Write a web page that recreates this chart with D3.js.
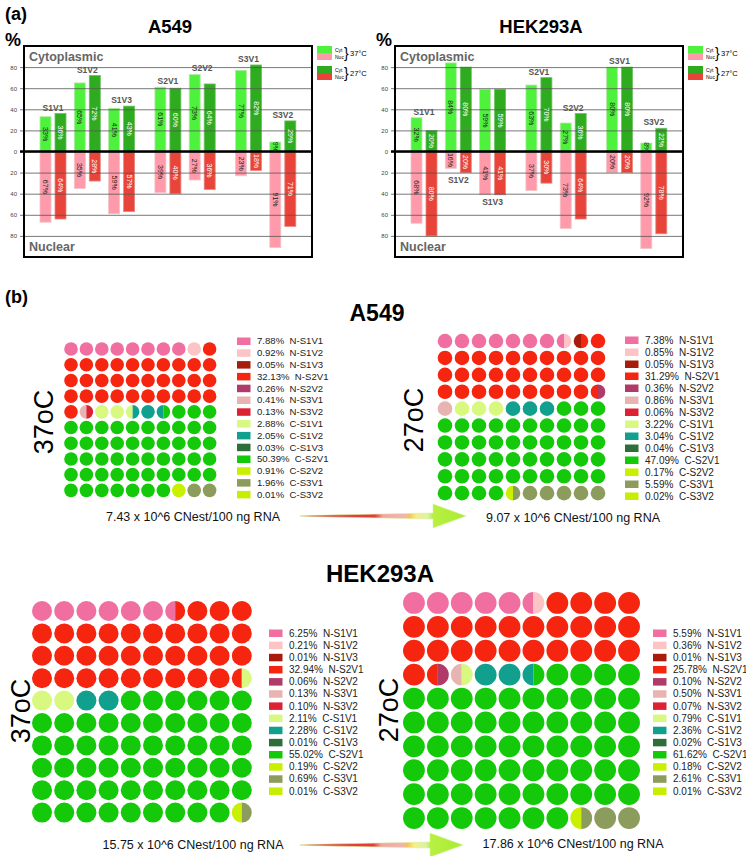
<!DOCTYPE html>
<html>
<head>
<meta charset="utf-8">
<script src="https://cdn.jsdelivr.net/npm/d3@7"></script>
<style>
body { margin: 0; background: #fff; }
text { font-family: "Liberation Sans", Arial, Helvetica, sans-serif; }
</style>
</head>
<body>
<svg id="fig" width="746" height="856"></svg>
<script>
// ---- panel (a) data ----
var barVariants = ["S1V1", "S1V2", "S1V3", "S2V1", "S2V2", "S3V1", "S3V2"];
var barGroups = [0, 0, 0, 1, 1, 2, 2];
var yTicks = [80, 60, 40, 20, 0, -20, -40, -60, -80];

var a549Cyt37 = [33, 65, 41, 61, 73, 77, 9];
var a549Cyt27 = [36, 72, 43, 60, 64, 82, 29];
var a549Nuc37 = [67, 35, 59, 39, 27, 23, 91];
var a549Nuc27 = [64, 28, 57, 40, 36, 18, 71];

var hekCyt37 = [32, 84, 59, 63, 27, 80, 8];
var hekCyt27 = [20, 80, 59, 70, 36, 80, 22];
var hekNuc37 = [68, 16, 41, 37, 73, 20, 92];
var hekNuc27 = [80, 20, 41, 30, 64, 20, 78];
var hekLabelBelow = ["S1V2", "S1V3"];

// ---- panel (b) data ----
var waffleCats = ["N-S1V1", "N-S1V2", "N-S1V3", "N-S2V1", "N-S2V2", "N-S3V1", "N-S3V2",
	"C-S1V1", "C-S1V2", "C-S1V3", "C-S2V1", "C-S2V2", "C-S3V1", "C-S3V2"];
var waffleColors = ["#f06ea0", "#fcc4c4", "#a81c0c", "#f52510", "#b03a68", "#e8b4b2", "#dc2232",
	"#d8f880", "#12a08e", "#2e6e38", "#14c80a", "#c8f000", "#8c9c5c", "#c6ee00"];

var a549Pct37 = [7.88, 0.92, 0.05, 32.13, 0.26, 0.41, 0.13, 2.88, 2.05, 0.03, 50.39, 0.91, 1.96, 0.01];
var a549Pct27 = [7.38, 0.85, 0.05, 31.29, 0.36, 0.86, 0.06, 3.22, 3.04, 0.04, 47.09, 0.17, 5.59, 0.02];
var hekPct37 = [6.25, 0.21, 0.01, 32.94, 0.06, 0.13, 0.10, 2.11, 2.28, 0.01, 55.02, 0.19, 0.69, 0.01];
var hekPct27 = [5.59, 0.36, 0.01, 25.78, 0.10, 0.50, 0.07, 0.79, 2.36, 0.02, 61.62, 0.18, 2.61, 0.01];

// circles per category as drawn (half circles allowed)
var a549Cells37 = [8, 1, 0, 32, 0, 0.5, 0.5, 2.5, 2, 0, 50.5, 1, 2, 0];
var a549Cells27 = [7.5, 0.5, 0.5, 31, 0.5, 1, 0, 3, 3, 0, 47, 0.5, 5.5, 0];
var hekCells37 = [6.5, 0, 0, 33, 0, 0, 0, 2.5, 2, 0, 55, 0.5, 0.5, 0];
var hekCells27 = [5.5, 0.5, 0, 25.5, 0.5, 0.5, 0, 0.5, 2.5, 0, 61.5, 0.5, 2.5, 0];

var copies = ["7.43 x 10^6 CNest/100 ng RNA", "9.07 x 10^6 CNest/100 ng RNA",
	"15.75 x 10^6 CNest/100 ng RNA", "17.86 x 10^6 CNest/100 ng RNA"];

var svg = d3.select("#fig");
svg.append("rect").attr("width", 746).attr("height", 856).attr("fill", "#fff");

var defs = svg.append("defs");
var grad = defs.append("linearGradient").attr("id", "arrowGrad");
[[0, "#f0dada"], [0.06, "#d84444"], [0.45, "#e23c38"], [0.5, "#f2a4a4"], [0.63, "#f4b2b0"],
 [0.66, "#f6c45a"], [0.7, "#f6ee84"], [0.77, "#dcf2a8"], [0.8, "#b8f044"], [1, "#a8ec30"]]
	.forEach(function(s) {
		grad.append("stop").attr("offset", s[0]).attr("stop-color", s[1]);
	});

// ---------- panel (a) ----------
function barPanel(fx, title, cyt37, cyt27, nuc37, nuc27, below) {
	var top = 46, bottom = 257, w = 288;
	var g = svg.append("g");
	var y = d3.scaleLinear().domain([-100, 100]).range([bottom, top]);
	var x = d3.scaleBand().domain(barVariants).range([fx + 16, fx + 16 + 7 * 34.3]);
	var sub = d3.scaleBand().domain(["37", "27"]).range([0, 26]).paddingInner(4 / 15);
	var bw = sub.bandwidth();
	function gx(v) { return x(v) + barGroups[barVariants.indexOf(v)] * 12; }

	var rows = [];
	barVariants.forEach(function(v, i) {
		rows.push({v: v, t: "37", cyt: cyt37[i], nuc: nuc37[i]});
		rows.push({v: v, t: "27", cyt: cyt27[i], nuc: nuc27[i]});
	});

	g.append("text").attr("x", fx + 146).attr("y", 33).attr("text-anchor", "middle")
		.attr("font-size", 18.5).attr("font-weight", "bold").text(title);
	g.append("text").attr("x", fx - 19).attr("y", 46).attr("font-size", 18)
		.attr("font-weight", "bold").text("%");

	g.selectAll("rect.cyt").data(rows).enter().append("rect")
		.attr("class", "cyt")
		.attr("x", function(d) { return gx(d.v) + sub(d.t); })
		.attr("y", function(d) { return y(d.cyt); })
		.attr("width", bw)
		.attr("height", function(d) { return y(0) - y(d.cyt); })
		.attr("fill", function(d) { return d.t === "37" ? "#4ef23c" : "#2fab1f"; })
		.attr("stroke", function(d) { return d.t === "37" ? "#b6eaa8" : "#6cc060"; })
		.attr("stroke-width", 0.8);

	g.selectAll("rect.nuc").data(rows).enter().append("rect")
		.attr("class", "nuc")
		.attr("x", function(d) { return gx(d.v) + sub(d.t); })
		.attr("y", y(0))
		.attr("width", bw)
		.attr("height", function(d) { return y(-d.nuc) - y(0); })
		.attr("fill", function(d) { return d.t === "37" ? "#ff9aaa" : "#e8443a"; })
		.attr("stroke", function(d) { return d.t === "37" ? "#f2c4c8" : "#e88880"; })
		.attr("stroke-width", 0.8);

	var axis = g.append("g").attr("transform", "translate(" + (fx - 4) + ",0)")
		.call(d3.axisLeft(y).tickValues(yTicks).tickSize(-(w + 4)).tickPadding(3)
			.tickFormat(function(d) { return Math.abs(d); }));
	axis.select(".domain").remove();
	axis.selectAll("line").attr("stroke", "#555").attr("stroke-width", 0.8);
	axis.selectAll("text").attr("font-size", 6).attr("fill", "#444")
		.style("font-family", "'Liberation Sans', Arial, sans-serif");

	g.append("line").attr("x1", fx - 4).attr("x2", fx + w).attr("y1", y(0)).attr("y2", y(0))
		.attr("stroke", "#000").attr("stroke-width", 2.5);
	g.append("rect").attr("x", fx).attr("y", top).attr("width", w).attr("height", bottom - top)
		.attr("fill", "none").attr("stroke", "#000").attr("stroke-width", 2);

	g.append("text").attr("x", fx + 5).attr("y", top + 15).attr("font-size", 12.5)
		.attr("font-weight", "bold").attr("fill", "#666").text("Cytoplasmic");
	g.append("text").attr("x", fx + 5).attr("y", bottom - 6).attr("font-size", 12.5)
		.attr("font-weight", "bold").attr("fill", "#666").text("Nuclear");

	// value labels inside bars
	g.selectAll("text.cv").data(rows).enter().append("text")
		.attr("class", "cv")
		.attr("transform", function(d) {
			return "translate(" + (gx(d.v) + sub(d.t) + bw / 2) + "," + ((y(0) + y(d.cyt)) / 2) + ") rotate(90)";
		})
		.attr("text-anchor", "middle").attr("dy", "0.35em").attr("font-size", 7)
		.attr("fill", function(d) { return d.t === "37" ? "#222" : "#fff"; })
		.text(function(d) { return d.cyt + "%"; });
	g.selectAll("text.nv").data(rows).enter().append("text")
		.attr("class", "nv")
		.attr("transform", function(d) {
			return "translate(" + (gx(d.v) + sub(d.t) + bw / 2) + "," + ((y(0) + y(-d.nuc)) / 2) + ") rotate(90)";
		})
		.attr("text-anchor", "middle").attr("dy", "0.35em").attr("font-size", 7)
		.attr("fill", function(d) { return d.t === "37" ? "#222" : "#fff"; })
		.text(function(d) { return d.nuc + "%"; });

	// variant names
	g.selectAll("text.var").data(barVariants).enter().append("text")
		.attr("class", "var")
		.attr("x", function(v) { return gx(v) + 13; })
		.attr("y", function(v, i) {
			if (below.indexOf(v) >= 0) return y(-Math.max(nuc37[i], nuc27[i])) + 10;
			return y(Math.max(cyt37[i], cyt27[i])) - 3;
		})
		.attr("text-anchor", "middle").attr("font-size", 8.5).attr("font-weight", "bold")
		.attr("fill", "#555").text(function(v) { return v; });

	// legend
	var lx = fx + w + 5;
	[[46, "#4ef23c", "#ff9aaa", "37°C"], [66, "#2fab1f", "#e8443a", "27°C"]].forEach(function(l) {
		g.append("rect").attr("x", lx).attr("y", l[0]).attr("width", 15).attr("height", 7).attr("fill", l[1]);
		g.append("rect").attr("x", lx).attr("y", l[0] + 7).attr("width", 15).attr("height", 7).attr("fill", l[2]);
		g.append("text").attr("x", lx + 18).attr("y", l[0] + 5.5).attr("font-size", 5).text("Cyt");
		g.append("text").attr("x", lx + 18).attr("y", l[0] + 12.5).attr("font-size", 5).text("Nuc");
		g.append("text").attr("x", lx + 27).attr("y", l[0] + 12).attr("font-size", 14)
			.attr("transform", "scale(1,1)").text("}");
		g.append("text").attr("x", lx + 33).attr("y", l[0] + 10).attr("font-size", 7.5).text(l[3]);
	});
}

svg.append("text").attr("x", 5).attr("y", 20).attr("font-size", 18).attr("font-weight", "bold").text("(a)");
barPanel(24, "A549", a549Cyt37, a549Cyt27, a549Nuc37, a549Nuc27, []);
barPanel(395, "HEK293A", hekCyt37, hekCyt27, hekNuc37, hekNuc27, hekLabelBelow);

// ---------- panel (b) ----------
function wafflePanel(o, pcts, cells) {
	var g = svg.append("g");
	var x = d3.scaleBand().domain(d3.range(10)).range([o.x0, o.x0 + 10 * o.step]);
	var y = d3.scaleBand().domain(d3.range(10)).range([o.y0, o.y0 + 10 * o.ystep]);
	var halves = [];
	cells.forEach(function(c, i) {
		for (var j = 0; j < Math.round(c * 2); j++) halves.push(i);
	});
	var data = d3.range(100).map(function(k) {
		return {row: Math.floor(k / 10), col: k % 10, left: halves[2 * k], right: halves[2 * k + 1]};
	});
	var arc = d3.arc().innerRadius(0).outerRadius(o.r);
	var cell = g.selectAll("g.cell").data(data).enter().append("g")
		.attr("class", "cell")
		.attr("transform", function(d) {
			return "translate(" + (x(d.col) + x.bandwidth() / 2) + "," + (y(d.row) + y.bandwidth() / 2) + ")";
		});
	cell.filter(function(d) { return d.left === d.right; }).append("circle")
		.attr("r", o.r).attr("fill", function(d) { return waffleColors[d.left]; });
	var split = cell.filter(function(d) { return d.left !== d.right; });
	split.append("path").attr("d", arc({startAngle: Math.PI, endAngle: 2 * Math.PI}))
		.attr("fill", function(d) { return waffleColors[d.left]; });
	split.append("path").attr("d", arc({startAngle: 0, endAngle: Math.PI}))
		.attr("fill", function(d) { return waffleColors[d.right]; });

	var ly = d3.scalePoint().domain(waffleCats).range([o.ly0, o.ly0 + 13 * o.lstep]);
	var leg = g.selectAll("g.leg").data(waffleCats).enter().append("g")
		.attr("class", "leg")
		.attr("transform", function(c) { return "translate(" + o.lx + "," + ly(c) + ")"; });
	leg.append("rect").attr("x", 0).attr("y", -3.5).attr("width", 13.5).attr("height", 7.5)
		.attr("fill", function(c, i) { return waffleColors[i]; });
	leg.append("text").attr("x", 20).attr("dy", "0.36em").attr("font-size", o.fs).attr("fill", "#222")
		.text(function(c, i) { return pcts[i].toFixed(2) + "%\u00a0\u00a0" + c; });

	g.append("text").attr("transform", "translate(" + o.tx + "," + o.ty + ") rotate(-90)")
		.attr("text-anchor", "middle").attr("dy", "0.36em").attr("font-size", 27).text(o.temp);
	g.append("text").attr("x", o.cx).attr("y", o.cy).attr("text-anchor", "middle")
		.attr("font-size", 12.5).attr("fill", "#111").text(o.caption);
}

function arrow(x0, x1, yc) {
	var xb = x1 - 33;
	svg.append("path")
		.attr("d", "M" + x0 + "," + (yc - 0.4) + "L" + xb + "," + (yc - 3) + "L" + xb + "," + (yc - 12) +
			"L" + x1 + "," + yc + "L" + xb + "," + (yc + 12) + "L" + xb + "," + (yc + 3) +
			"L" + x0 + "," + (yc + 0.4) + "Z")
		.attr("fill", "url(#arrowGrad)").attr("stroke", "#d6f2a0").attr("stroke-width", 0.6);
}

svg.append("text").attr("x", 5).attr("y", 303).attr("font-size", 18).attr("font-weight", "bold").text("(b)");
svg.append("text").attr("x", 377).attr("y", 321).attr("text-anchor", "middle").attr("font-size", 23)
	.attr("font-weight", "bold").text("A549");
svg.append("text").attr("x", 380).attr("y", 582).attr("text-anchor", "middle").attr("font-size", 24)
	.attr("font-weight", "bold").text("HEK293A");

wafflePanel({x0: 63.3, step: 15.4, y0: 341.2, ystep: 15.7, r: 6.8, lx: 237, ly0: 341, lstep: 11.8, fs: 9.6,
	tx: 43, ty: 422, temp: "37oC", cx: 193, cy: 521, caption: copies[0]}, a549Pct37, a549Cells37);
wafflePanel({x0: 436.5, step: 17, y0: 332.6, ystep: 16.9, r: 7.3, lx: 625, ly0: 340, lstep: 12, fs: 10,
	tx: 413, ty: 420, temp: "27oC", cx: 573, cy: 522, caption: copies[1]}, a549Pct27, a549Cells27);
wafflePanel({x0: 30.9, step: 22.2, y0: 599.8, ystep: 22.4, r: 10, lx: 269, ly0: 633, lstep: 12.15, fs: 10,
	tx: 20, ty: 711, temp: "37oC", cx: 193, cy: 849, caption: copies[2]}, hekPct37, hekCells37);
wafflePanel({x0: 402, step: 23.9, y0: 591, ystep: 23.9, r: 10.9, lx: 653, ly0: 633, lstep: 12.15, fs: 10,
	tx: 388, ty: 710, temp: "27oC", cx: 573, cy: 848, caption: copies[3]}, hekPct27, hekCells27);

arrow(300, 466, 516);
arrow(300, 463, 845);
</script>
</body>
</html>
